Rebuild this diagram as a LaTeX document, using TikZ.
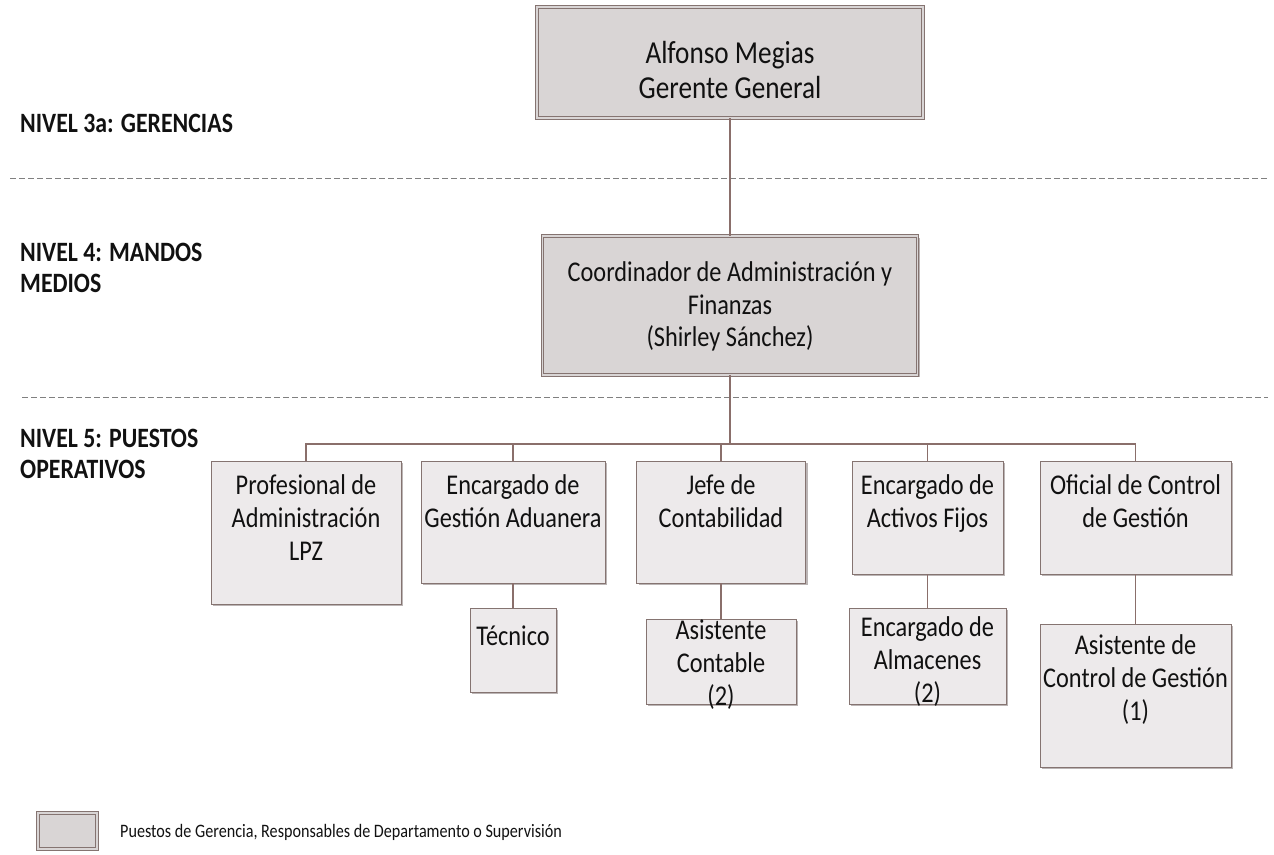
\documentclass[tikz,border=0pt]{standalone}
\usepackage{fontspec}
\setmainfont{Carlito}[FakeStretch=0.85]
\usetikzlibrary{shadows}
\definecolor{mgrfill}{HTML}{D9D5D5}
\definecolor{subfill}{HTML}{EDEAEB}
\definecolor{bordc}{HTML}{857471}
\definecolor{linkc}{HTML}{8A6F6B}
\definecolor{dashc}{HTML}{808080}
\definecolor{shadc}{HTML}{9E9696}
\definecolor{txtc}{HTML}{111111}
\newcommand{\bigtxt}{\fontsize{32}{35}\selectfont}
\newcommand{\midtxt}{\fontsize{28.6}{32.5}\selectfont}
\newcommand{\medtxt}{\fontsize{28.6}{33}\selectfont}
\newcommand{\lvltxt}{\bfseries\fontsize{28}{31}\selectfont}
\newcommand{\legtxt}{\fontsize{19}{22}\selectfont}
% width, height, top padding, text
\newcommand{\bxt}[4]{\parbox[c][#2][t]{#1}{\centering\vspace*{#3}\strut #4}}
\tikzset{
  mgrbox/.style={draw=bordc, line width=0.9pt, double=mgrfill, double distance=1.8pt,
    fill=mgrfill, inner sep=0pt, text=txtc,
    drop shadow={shadow xshift=2pt, shadow yshift=-2pt, fill=shadc, opacity=0.7}},
  subbox/.style={draw=bordc, line width=0.9pt, fill=subfill, inner sep=0pt, text=txtc,
    drop shadow={shadow xshift=2pt, shadow yshift=-2pt, fill=shadc, opacity=0.7}},
  link/.style={draw=linkc, line width=1.2pt},
  sepline/.style={draw=dashc, line width=0.9pt, dash pattern=on 6pt off 3pt},
  lvl/.style={inner sep=0pt, align=left, text=txtc, font=\lvltxt},
}
\begin{document}
\begin{tikzpicture}[x=1pt,y=-1pt]
\useasboundingbox (0,0) rectangle (1274,854);
% separators
\draw[sepline] (10,178) -- (1268,178);
\draw[sepline] (22,397) -- (1268,397);
% level labels
\node[lvl, anchor=west] (l3) at (20,123) {NIVEL 3a: GERENCIAS};
\node[lvl, anchor=north west] (l4) at (20,243) {NIVEL 4: MANDOS\\MEDIOS};
\node[lvl, anchor=north west] (l5) at (20,429) {NIVEL 5: PUESTOS\\OPERATIVOS};
% manager boxes
\node[mgrbox] (gg) at (730,62.5) {\bxt{386pt}{111pt}{34.5pt}{\bigtxt Alfonso Megias\\Gerente General}};
\node[mgrbox] (co) at (730,305.5) {\bxt{375pt}{139pt}{26pt}{\midtxt Coordinador de Administración y\\Finanzas\\(Shirley Sánchez)}};
% operative boxes
\node[subbox] (b1) at (306,532.5) {\bxt{190pt}{143pt}{13.6pt}{\medtxt Profesional de\\Administración\\LPZ}};
\node[subbox] (b2) at (513,522) {\bxt{184pt}{122pt}{13.6pt}{\medtxt Encargado de\\Gestión Aduanera}};
\node[subbox] (b3) at (721,522) {\bxt{169pt}{122pt}{13.6pt}{\medtxt Jefe de\\Contabilidad}};
\node[subbox] (b4) at (927.5,517.5) {\bxt{151pt}{113pt}{13.6pt}{\medtxt Encargado de\\Activos Fijos}};
\node[subbox] (b5) at (1135.5,517.5) {\bxt{191pt}{113pt}{13.6pt}{\medtxt Oficial de Control\\de Gestión}};
\node[subbox] (s2) at (513,650) {\bxt{86pt}{84pt}{17.6pt}{\medtxt Técnico}};
\node[subbox] (s3) at (721,661.5) {\bxt{150pt}{85pt}{0.4pt}{\medtxt Asistente\\Contable\\(2)}};
\node[subbox] (s4) at (927.5,656) {\bxt{157pt}{96pt}{8.6pt}{\medtxt Encargado de\\Almacenes\\(2)}};
\node[subbox] (s5) at (1135.5,695.5) {\bxt{191pt}{143pt}{10.6pt}{\medtxt Asistente de\\Control de Gestión\\(1)}};
% connectors
\coordinate (bus) at (730,444);
\draw[link] (gg.south) -- (co.north);
\draw[link] (co.south) -- (bus);
\draw[link] (b1.north) -- (b1.north |- bus) -- (b5.north |- bus) -- (b5.north);
\draw[link] (b2.north) -- (b2.north |- bus);
\draw[link] (b3.north) -- (b3.north |- bus);
\draw[link] (b4.north) -- (b4.north |- bus);
\draw[link] (b2.south) -- (s2.north);
\draw[link] (b3.south) -- (s3.north);
\draw[link] (b4.south) -- (s4.north);
\draw[link] (b5.south) -- (s5.north);
% legend
\node[mgrbox, minimum width=59pt, minimum height=36pt] (leg) at (67.5,831) {};
\node[anchor=west, inner sep=0pt, text=txtc, font=\legtxt] (legt) at (120,832) {Puestos de Gerencia, Responsables de Departamento o Supervisión};
\end{tikzpicture}
\end{document}
